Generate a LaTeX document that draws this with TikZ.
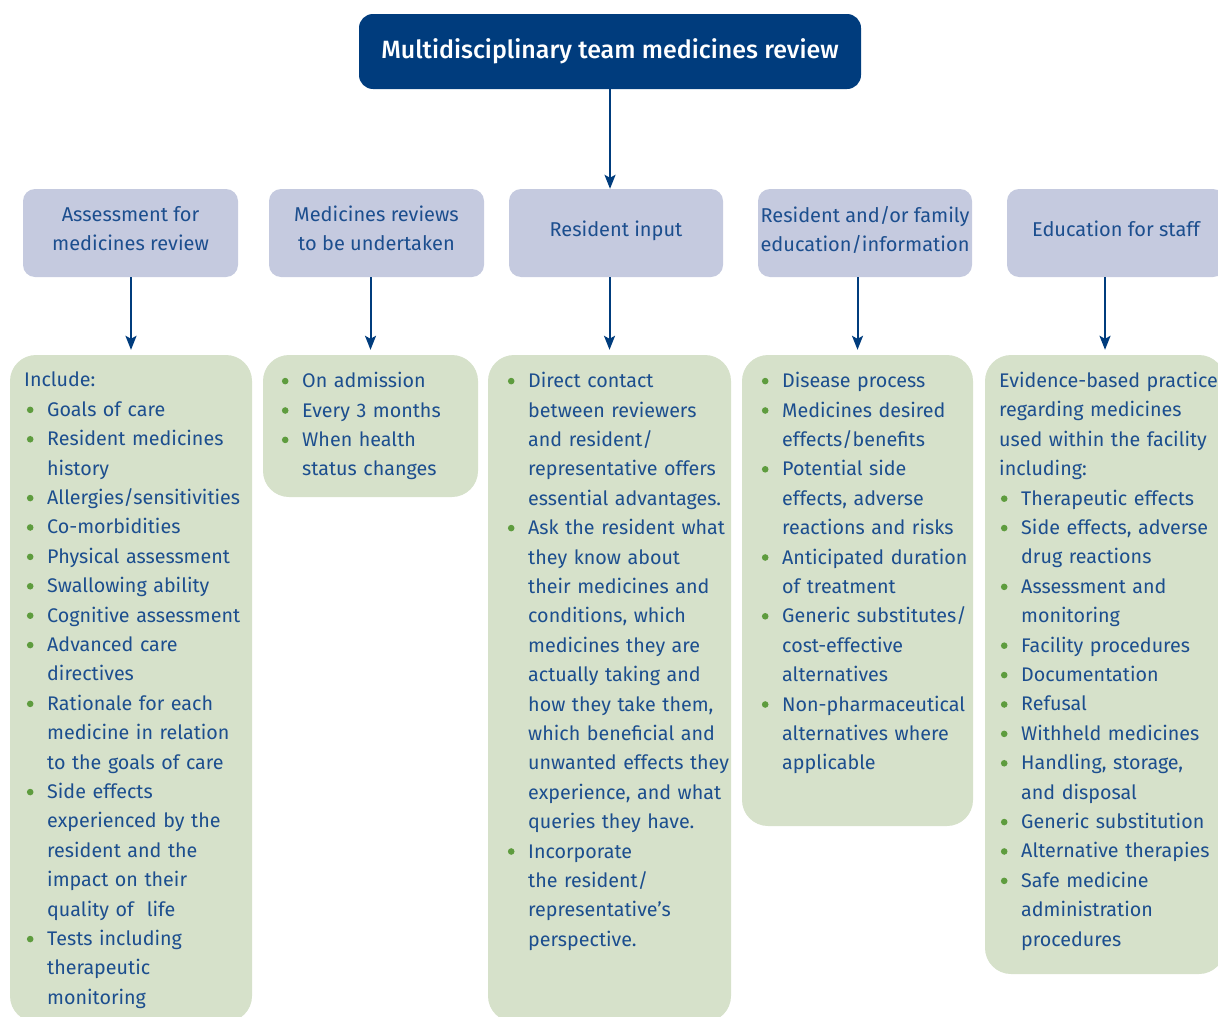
\documentclass[tikz,border=0pt]{standalone}
\usepackage{fontspec}
\setmainfont{Fira Sans}
\IfFontExistsTF{Fira Sans Medium}{\newfontfamily\titlefont{Fira Sans Medium}}{\newcommand{\titlefont}{\bfseries}}
\usepackage{enumitem}
\usetikzlibrary{arrows.meta}

\definecolor{reviewnavy}{HTML}{003C7D}
\definecolor{headlilac}{HTML}{C5CADF}
\definecolor{listsage}{HTML}{D6E1CA}
\definecolor{textnavy}{HTML}{1C4E8E}
\definecolor{dotgreen}{HTML}{5E9C3E}

\hyphenpenalty=10000
\newcommand{\greendot}{\tikz[baseline]\fill[dotgreen] (0,6.5pt) circle[radius=3.3pt];}
\newenvironment{dotlist}[1][]{\begin{itemize}[leftmargin=23pt,labelsep=13.7pt,itemsep=0pt,topsep=0pt,parsep=0pt,partopsep=0pt,label={\greendot},#1]}{\end{itemize}}

\begin{document}
\begin{tikzpicture}[x=1pt,y=-1pt,
  topbox/.style={fill=reviewnavy,rounded corners=14pt,text=white,font=\fontsize{25}{30}\selectfont\titlefont,minimum width=502pt,minimum height=75pt},
  headbox/.style={fill=headlilac,rounded corners=12pt,text=textnavy,font=\fontsize{20}{29}\selectfont,align=center,minimum width=215pt,minimum height=88pt,inner sep=0pt,execute at end node={\rule[-9pt]{0pt}{9pt}}},
  listbox/.style={fill=listsage,rounded corners=26pt,inner sep=0pt},
  listtext/.style={anchor=north west,inner sep=0pt,text=textnavy,font=\fontsize{19.7}{29.4}\selectfont,text width=260pt,align=left},
  link/.style={draw=reviewnavy,line width=2pt,-{Stealth[length=14pt,width=11pt,inset=3pt]}}]
\useasboundingbox (0,0) rectangle (1218,1017);

% top
\node[topbox] (mdt) at (610,51.5) {Multidisciplinary team medicines review};

% second row
\node[headbox] (assess) at (130.5,233) {Assessment for\\medicines review};
\node[headbox] (reviews) at (376.5,233) {Medicines reviews\\to be undertaken};
\node[headbox, minimum width=214pt] (input) at (616,233) {Resident input};
\node[headbox, minimum width=214pt] (family) at (865,233) {Resident and/or family\\education/information};
\node[headbox, minimum width=218pt] (staff) at (1116,233) {Education for staff};

% green boxes
\node[listbox, minimum width=242pt, minimum height=667pt] (g1) at (131,688.5) {};
\node[listbox, minimum width=215pt, minimum height=142pt] (g2) at (370.5,426) {};
\node[listbox, minimum width=243pt, minimum height=667pt] (g3) at (609.5,688.5) {};
\node[listbox, minimum width=231pt, minimum height=471pt] (g4) at (857.5,590.5) {};
\node[listbox, minimum width=240pt, minimum height=619pt] (g5) at (1105,664.5) {};

% arrows
\draw[link] (mdt.south) -- (mdt.south |- input.north);
\draw[link, shorten >=5pt] (g1.north |- assess.south) -- (g1.north);
\draw[link, shorten >=5pt] (g2.north |- reviews.south) -- (g2.north);
\draw[link, shorten >=5pt] (g3.north |- input.south) -- (g3.north);
\draw[link, shorten >=5pt] (g4.north |- family.south) -- (g4.north);
\draw[link, shorten >=5pt] (g5.north |- staff.south) -- (g5.north);

% list texts
\node[listtext] (t1) at (24,372) {Include:
\begin{dotlist}
\item Goals of care
\item Resident medicines\newline history
\item Allergies/sensitivities
\item Co-morbidities
\item Physical assessment
\item Swallowing ability
\item Cognitive assessment
\item Advanced care\newline directives
\item Rationale for each\newline medicine in relation\newline to the goals of care
\item Side effects\newline experienced by the\newline resident and the\newline impact on their\newline quality of\ \ life
\item Tests including\newline therapeutic\newline monitoring
\end{dotlist}};

\node[listtext] (t2) at (279,358) {\begin{dotlist}
\item On admission
\item Every 3 months
\item When health\newline status changes
\end{dotlist}};

\node[listtext] (t3) at (505,358) {\begin{dotlist}
\item Direct contact\newline between reviewers\newline and resident/\newline representative offers\newline essential advantages.
\item Ask the resident what\newline they know about\newline their medicines and\newline conditions, which\newline medicines they are\newline actually taking and\newline how they take them,\newline which beneficial and\newline unwanted effects they\newline experience, and what\newline queries they have.
\item Incorporate\newline the resident/\newline representative’s\newline perspective.
\end{dotlist}};

\node[listtext] (t4) at (759,358) {\begin{dotlist}
\item Disease process
\item Medicines desired\newline effects/benefits
\item Potential side\newline effects, adverse\newline reactions and risks
\item Anticipated duration\newline of treatment
\item Generic substitutes/\newline cost-effective\newline alternatives
\item Non-pharmaceutical\newline alternatives where\newline applicable
\end{dotlist}};

\node[listtext] (t5) at (999,372) {Evidence-based practice\newline regarding medicines\newline used within the facility\newline including:
\begin{dotlist}[leftmargin=22pt]
\item Therapeutic effects
\item Side effects, adverse\newline drug reactions
\item Assessment and\newline monitoring
\item Facility procedures
\item Documentation
\item Refusal
\item Withheld medicines
\item Handling, storage,\newline and disposal
\item Generic substitution
\item Alternative therapies
\item Safe medicine\newline administration\newline procedures
\end{dotlist}};
\end{tikzpicture}
\end{document}
